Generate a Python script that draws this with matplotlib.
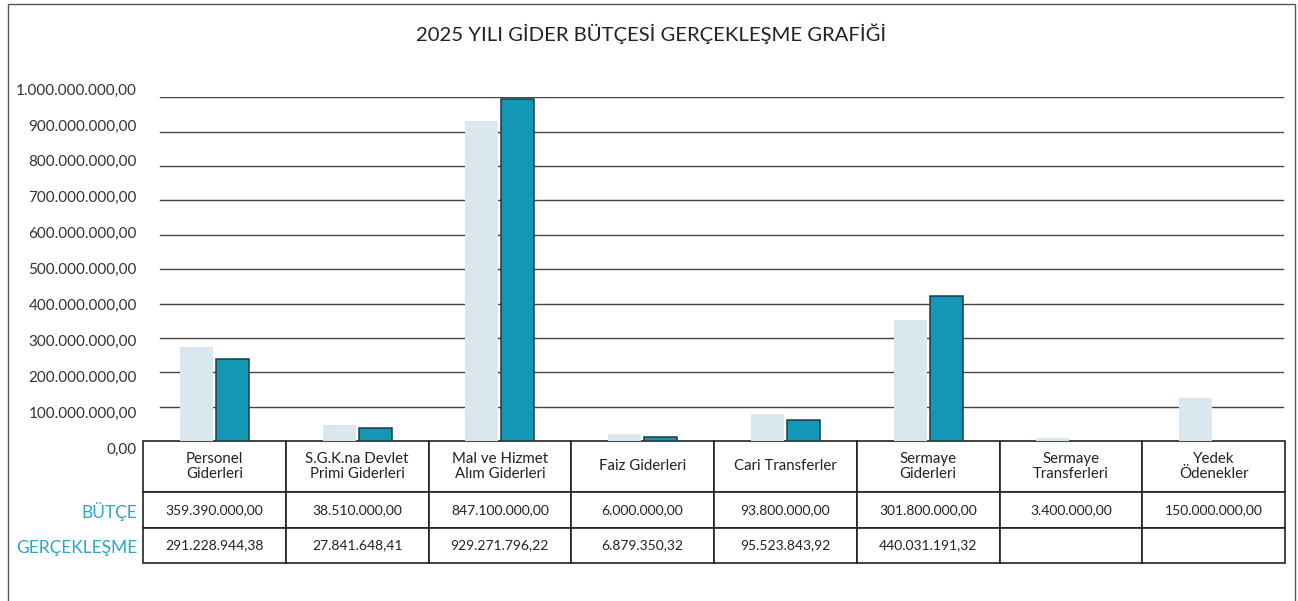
# 2025 Yili Gider Butcesi Gerceklesme Grafigi
# Bar chart of budget vs realized spending with a value table below

import matplotlib
matplotlib.use("Agg")
import matplotlib.pyplot as plt
from matplotlib.patches import Rectangle

plt.rcParams['font.family'] = ['Lato', 'DejaVu Sans']

# === DATA ===
categories = ["Personel\nGiderleri", "S.G.K.na Devlet\nPrimi Giderleri", "Mal ve Hizmet\nAlım Giderleri",
              "Faiz Giderleri", "Cari Transferler", "Sermaye\nGiderleri", "Sermaye\nTransferleri",
              "Yedek\nÖdenekler"]

# bar heights as drawn in the picture (None = no bar)
bar_butce = [273e6, 47e6, 931e6, 19e6, 79e6, 351e6, 8e6, 125e6]
bar_gerceklesme = [239e6, 37e6, 996e6, 11e6, 62e6, 423e6, None, None]

# values written in the table
tablo_butce = [359390000.00, 38510000.00, 847100000.00, 6000000.00, 93800000.00,
               301800000.00, 3400000.00, 150000000.00]
tablo_gerceklesme = [291228944.38, 27841648.41, 929271796.22, 6879350.32, 95523843.92,
                     440031191.32, None, None]

y_ticks = [0, 100e6, 200e6, 300e6, 400e6, 500e6, 600e6, 700e6, 800e6, 900e6, 1000e6]

title = "2025 YILI GİDER BÜTÇESİ GERÇEKLEŞME GRAFİĞİ"
row_names = ["BÜTÇE", "GERÇEKLEŞME"]

c_butce = "#DAE7EE"
c_gerc = "#1397B5"
c_label = "#2AA5C8"


def tr_format(v):
    # Turkish number format: 1.234.567,89
    if v is None:
        return ""
    s = f"{v:,.2f}"
    return s.replace(",", "X").replace(".", ",").replace("X", ".")


fig = plt.figure(figsize=(12.98, 6.01), dpi=100)

# outer frame
fig.patches.append(Rectangle((8 / 1298, -0.02), 1287 / 1298, 1.02 - 4 / 601, transform=fig.transFigure,
                             fill=False, edgecolor="#555555", linewidth=1.0))

left, width = 143 / 1298, 1142 / 1298

# === MAIN BAR AXES ===
ax = fig.add_axes([left, 1 - 441 / 601, width, (441 - 97.3) / 601])
xb = [i - 0.126 for i, v in enumerate(bar_butce) if v is not None]
hb = [v for v in bar_butce if v is not None]
xg = [i + 0.126 for i, v in enumerate(bar_gerceklesme) if v is not None]
hg = [v for v in bar_gerceklesme if v is not None]
ax.bar(xb, hb, width=0.23, color=c_butce, zorder=3)
ax.bar(xg, hg, width=0.23, color=c_gerc, edgecolor="#1E3A44", linewidth=1.1, zorder=3)
ax.set_xlim(-0.5, len(categories) - 0.5)
ax.set_ylim(0, 1e9)
for t in y_ticks[1:]:
    ax.axhline(t, xmin=17 / 1142, xmax=1140 / 1142, color="#444444", linewidth=1.0, zorder=1)
for s in ax.spines.values():
    s.set_visible(False)
ax.set_xticks([])
ax.set_yticks([])

# y labels sit on their own evenly spread scale
ax_lab = fig.add_axes([left, 1 - 448 / 601, width, (448 - 89) / 601])
ax_lab.set_ylim(0, 1e9)
ax_lab.set_yticks(y_ticks)
ax_lab.set_yticklabels([tr_format(t) for t in y_ticks], fontsize=11, color="#333333")
ax_lab.tick_params(axis='y', length=0, pad=4.5)
ax_lab.set_xticks([])
ax_lab.patch.set_visible(False)
for s in ax_lab.spines.values():
    s.set_visible(False)

# title
fig.text(651 / 1298, 1 - 34 / 601, title, ha="center", va="center", fontsize=14.6, color="#222222")

# === TABLE ===
cell_text = [[tr_format(v) for v in tablo_butce], [tr_format(v) for v in tablo_gerceklesme]]
tbl = ax.table(cellText=cell_text, colLabels=categories, cellLoc="center",
               bbox=[0, -122 / 343.7, 1, 122 / 343.7])
tbl.auto_set_font_size(False)
row_h = [51, 36, 35]
for (r, c), cell in tbl.get_celld().items():
    cell.set_height(row_h[r])
    cell.set_edgecolor("#222222")
    cell.set_linewidth(1.2)
    size = 10.8 if r == 0 else 10
    cell.set_text_props(fontsize=size, color="#222222", linespacing=1.1)

# row names left of the table
for name, ypx in zip(row_names, [512, 548]):
    fig.text(137 / 1298, 1 - ypx / 601, name, ha="right", va="center", fontsize=12.5, color=c_label)

plt.savefig("out.png", dpi=100)
